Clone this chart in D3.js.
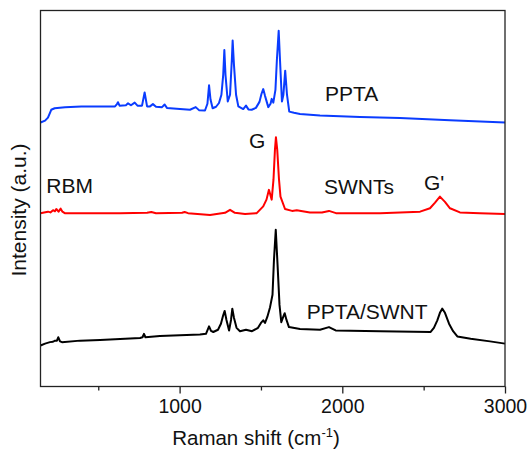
<!DOCTYPE html>
<html>
<head>
<meta charset="utf-8">
<script src="https://cdn.jsdelivr.net/npm/d3@7"></script>
<style>
  body { margin: 0; background: #fff; }
  text { font-family: "Liberation Sans", Arial, sans-serif; fill: #111; }
</style>
</head>
<body>
<div id="chart"></div>
<script>
// Raman spectra (x = Raman shift in cm-1, y = intensity a.u.)
const pptaShift = [145, 173, 191, 211, 232, 296, 396, 603, 615, 621, 631, 670, 683, 701, 724, 741, 769, 785, 800, 818,
  836, 855, 892, 908, 922, 1002, 1064, 1099, 1119, 1156, 1171, 1181, 1190, 1203, 1224, 1242, 1257, 1268, 1275, 1282,
  1296, 1310, 1321, 1326, 1334, 1347, 1361, 1391, 1408, 1423, 1443, 1469, 1491, 1503, 1514, 1525, 1545, 1559, 1566, 1576,
  1589, 1598, 1609, 1617, 1629, 1638, 1649, 1660, 1674, 1703, 1740, 1863, 2109, 2354, 2662, 3000];
const pptaInt = [70.2, 70.7, 71.5, 73.6, 74.0, 74.3, 74.5, 74.5, 75.1, 75.6, 74.7, 74.8, 75.3, 74.8, 75.5, 74.7, 74.7, 78.2, 74.5, 74.5,
  75.1, 74.4, 74.3, 75.0, 74.1, 73.8, 73.6, 74.3, 73.5, 73.4, 75.2, 80.1, 76.3, 74.0, 74.4, 75.4, 77.6, 82.9, 89.5, 82.9,
  75.8, 77.6, 86.9, 92.0, 85.6, 77.6, 74.5, 73.8, 74.7, 73.7, 73.6, 74.1, 75.7, 77.8, 79.1, 77.3, 74.3, 75.2, 76.5, 75.5,
  78.9, 86.9, 94.6, 86.9, 75.8, 77.6, 84.0, 77.6, 73.1, 72.8, 72.5, 72.1, 71.7, 71.4, 70.8, 70.2];

const swntShift = [145, 167, 191, 206, 222, 234, 242, 256, 269, 280, 294, 388, 634, 800, 826, 855, 1015, 1031, 1052, 1187,
  1279, 1310, 1340, 1402, 1474, 1514, 1534, 1549, 1566, 1577, 1586, 1592, 1600, 1611, 1620, 1648, 1691, 1720, 1801, 1875,
  1918, 1961, 2232, 2478, 2539, 2570, 2600, 2631, 2662, 2723, 2846, 3000];
const swntInt = [46.1, 46.3, 46.5, 46.3, 46.9, 46.6, 47.2, 46.5, 47.3, 46.5, 46.1, 46.1, 46.1, 46.2, 46.4, 46.1, 46.2, 46.4, 46.1, 45.6,
  46.2, 47.0, 46.2, 45.9, 46.1, 47.9, 49.7, 52.3, 49.7, 55.0, 63.0, 66.3, 63.0, 55.0, 50.5, 47.2, 46.7, 46.9, 46.3, 46.3,
  46.7, 46.1, 46.1, 46.5, 47.4, 48.9, 50.5, 49.1, 47.4, 46.3, 46.1, 45.9];

const compShift = [145, 173, 203, 222, 234, 246, 254, 265, 277, 388, 511, 634, 757, 772, 781, 790, 879, 1002, 1125, 1162,
  1181, 1193, 1207, 1236, 1254, 1267, 1277, 1288, 1304, 1316, 1324, 1334, 1350, 1371, 1408, 1445, 1482, 1500, 1514, 1525,
  1539, 1556, 1571, 1580, 1591, 1602, 1614, 1625, 1635, 1646, 1657, 1672, 1740, 1863, 1918, 1959, 2232, 2543, 2563, 2584,
  2600, 2614, 2631, 2656, 2681, 2707, 2789, 2908, 3000];
const compInt = [10.9, 11.4, 11.8, 11.9, 12.2, 12.2, 13.1, 12.0, 11.8, 12.2, 12.4, 12.6, 12.9, 13.1, 14.0, 13.1, 13.4, 13.6, 13.8, 14.0,
  16.0, 14.8, 14.5, 15.1, 16.7, 18.8, 20.1, 17.7, 14.9, 17.7, 20.7, 18.3, 15.6, 14.7, 15.1, 14.7, 15.6, 16.9, 17.6, 16.9,
  18.5, 21.1, 24.4, 33.7, 41.7, 32.4, 21.7, 17.1, 18.3, 19.5, 17.7, 15.8, 15.3, 15.1, 15.8, 14.9, 14.7, 14.5, 15.6, 17.6,
  19.6, 20.7, 19.6, 16.7, 14.7, 13.3, 12.7, 12.0, 11.4];

const seriesNames = ["PPTA", "SWNTs", "PPTA/SWNT"];
const seriesColors = ["#0a3cff", "#ff0000", "#000000"];
const majorTicks = [1000, 2000, 3000];
const minorTicks = [500, 1500, 2500];

// peak annotations: [label, shift, intensity]
const annotations = [["RBM", 181, 51.5], ["G", 1426, 63.4], ["G'", 2502, 52.3]];
// curve name labels: [shift, intensity]
const namePos = [[1893, 76.0], [1887, 51.3], [1781, 18.0]];

const width = 529, height = 449;
const margin = { top: 10.5, right: 24, bottom: 62.5, left: 40.5 };

const svg = d3.select("#chart").append("svg")
  .attr("width", width)
  .attr("height", height);

const x = d3.scaleLinear().domain([145, 3000]).range([margin.left, width - margin.right]);
const y = d3.scaleLinear().domain([0, 100]).range([height - margin.bottom, margin.top]);

const line = d3.line()
  .x(d => x(d[0]))
  .y(d => y(d[1]));

const series = [
  d3.zip(pptaShift, pptaInt),
  d3.zip(swntShift, swntInt),
  d3.zip(compShift, compInt)
];

svg.append("g")
  .selectAll("path")
  .data(series)
  .join("path")
  .attr("d", line)
  .attr("fill", "none")
  .attr("stroke", (d, i) => seriesColors[i])
  .attr("stroke-width", 2)
  .attr("stroke-linejoin", "round");

// axes
const bottom = height - margin.bottom;
const xAxis = svg.append("g")
  .attr("transform", `translate(0,${bottom})`)
  .call(d3.axisBottom(x).tickValues(majorTicks).tickSize(7).tickPadding(6).tickFormat(d3.format("d")));
xAxis.select(".domain").remove();
xAxis.selectAll("line").attr("stroke", "#222").attr("stroke-width", 1.3);
xAxis.selectAll("text").style("font-size", "19.5px").attr("fill", "#111");

const xMinor = svg.append("g")
  .attr("transform", `translate(0,${bottom})`)
  .call(d3.axisBottom(x).tickValues(minorTicks).tickSize(4).tickFormat(""));
xMinor.select(".domain").remove();
xMinor.selectAll("line").attr("stroke", "#222").attr("stroke-width", 1.3);

svg.append("rect")
  .attr("x", margin.left)
  .attr("y", margin.top)
  .attr("width", width - margin.left - margin.right)
  .attr("height", height - margin.top - margin.bottom)
  .attr("fill", "none")
  .attr("stroke", "#222")
  .attr("stroke-width", 1.3);

// axis titles
const xt = svg.append("text")
  .attr("x", 256)
  .attr("y", 445)
  .attr("text-anchor", "middle")
  .style("font-size", "20.5px");
xt.append("tspan").text("Raman shift (cm");
xt.append("tspan").attr("dy", -8).style("font-size", "13px").text("-1");
xt.append("tspan").attr("dy", 8).text(")");

svg.append("text")
  .attr("transform", "translate(26,210) rotate(-90)")
  .attr("text-anchor", "middle")
  .style("font-size", "21px")
  .text("Intensity (a.u.)");

// curve labels
svg.append("g")
  .selectAll("text")
  .data(seriesNames)
  .join("text")
  .attr("x", (d, i) => x(namePos[i][0]))
  .attr("y", (d, i) => y(namePos[i][1]))
  .style("font-size", "21px")
  .text(d => d);

svg.append("g")
  .selectAll("text")
  .data(annotations)
  .join("text")
  .attr("x", d => x(d[1]))
  .attr("y", d => y(d[2]))
  .style("font-size", "21px")
  .text(d => d[0]);
</script>
</body>
</html>
